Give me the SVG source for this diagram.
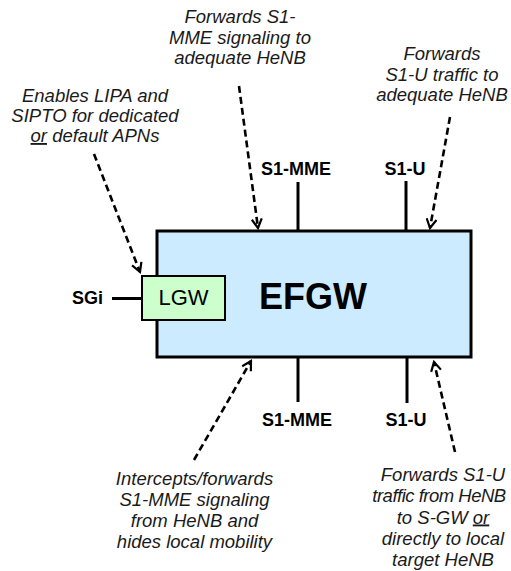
<svg xmlns="http://www.w3.org/2000/svg" width="511" height="571" viewBox="0 0 511 571">
<defs>
<marker id="ah" viewBox="0 0 12 12" refX="10" refY="6" markerWidth="12" markerHeight="12" markerUnits="userSpaceOnUse" orient="auto">
<polyline points="1,1 10,6 1,11" fill="none" stroke="#000" stroke-width="2.2"/>
</marker>
<style>
.note{font-family:"Liberation Sans",Arial,sans-serif;font-style:italic;font-size:18.5px;fill:#1a1a1a;text-anchor:middle}
.lbl{font-family:"Liberation Sans",Arial,sans-serif;font-weight:bold;font-size:18px;fill:#000;text-anchor:middle}
.dash{fill:none;stroke:#000;stroke-width:2.6;stroke-dasharray:7,4;marker-end:url(#ah)}
.link{stroke:#000;stroke-width:3}
</style>
</defs>
<rect width="511" height="571" fill="#fff"/>
<g id="connectors">
<line class="link" x1="298" y1="182" x2="298" y2="231"/>
<line class="link" x1="406" y1="181" x2="406" y2="231"/>
<line class="link" x1="298" y1="357" x2="298" y2="402"/>
<line class="link" x1="407" y1="357" x2="407" y2="403"/>
<line class="link" x1="112" y1="298.5" x2="142" y2="298.5"/>
<path class="dash" d="M239,86 L258,228"/>
<path class="dash" d="M450,117 L430,228"/>
<path class="dash" d="M94,154 L140,272"/>
<path class="dash" d="M194,460 L251,361"/>
<path class="dash" d="M455,452 L434,362"/>
</g>
<g id="efgw">
<rect x="157" y="231" width="314" height="126" fill="#CCEBFF" stroke="#000" stroke-width="3"/>
<text x="313" y="309" font-family="Liberation Sans,Arial,sans-serif" font-weight="bold" font-size="36" text-anchor="middle" fill="#000">EFGW</text>
</g>
<g id="lgw">
<rect x="142" y="276" width="83" height="44" fill="#CCFFCC" stroke="#000" stroke-width="2"/>
<text x="183.5" y="304.5" font-family="Liberation Sans,Arial,sans-serif" font-size="22" text-anchor="middle" fill="#000">LGW</text>
</g>
<g id="labels">
<text class="lbl" x="296" y="174.5">S1-MME</text>
<text class="lbl" x="405" y="174.5">S1-U</text>
<text class="lbl" x="297" y="426">S1-MME</text>
<text class="lbl" x="406" y="426">S1-U</text>
<text class="lbl" x="87.5" y="304">SGi</text>
</g>
<g id="note-lipa">
<text class="note"><tspan x="95" y="102">Enables LIPA and</tspan><tspan x="95" y="122">SIPTO for dedicated</tspan><tspan x="95" y="142"><tspan text-decoration="underline">or</tspan> default APNs</tspan></text>
</g>
<g id="note-s1mme-top">
<text class="note"><tspan x="240" y="23">Forwards S1-</tspan><tspan x="240" y="43.5">MME signaling to</tspan><tspan x="240" y="64">adequate HeNB</tspan></text>
</g>
<g id="note-s1u-top">
<text class="note"><tspan x="442" y="60">Forwards</tspan><tspan x="442" y="80.5">S1-U traffic to</tspan><tspan x="442" y="101">adequate HeNB</tspan></text>
</g>
<g id="note-s1mme-bottom">
<text class="note"><tspan x="194.5" y="485">Intercepts/forwards</tspan><tspan x="194.5" y="506">S1-MME signaling</tspan><tspan x="194.5" y="527">from HeNB and</tspan><tspan x="194.5" y="548">hides local mobility</tspan></text>
</g>
<g id="note-s1u-bottom">
<text class="note"><tspan x="443" y="481">Forwards S1-U</tspan><tspan x="439" y="502" letter-spacing="-0.5">traffic from HeNB</tspan><tspan x="443" y="523.5">to S-GW <tspan text-decoration="underline">or</tspan></tspan><tspan x="443" y="545">directly to local</tspan><tspan x="443" y="566">target HeNB</tspan></text>
</g>
</svg>
